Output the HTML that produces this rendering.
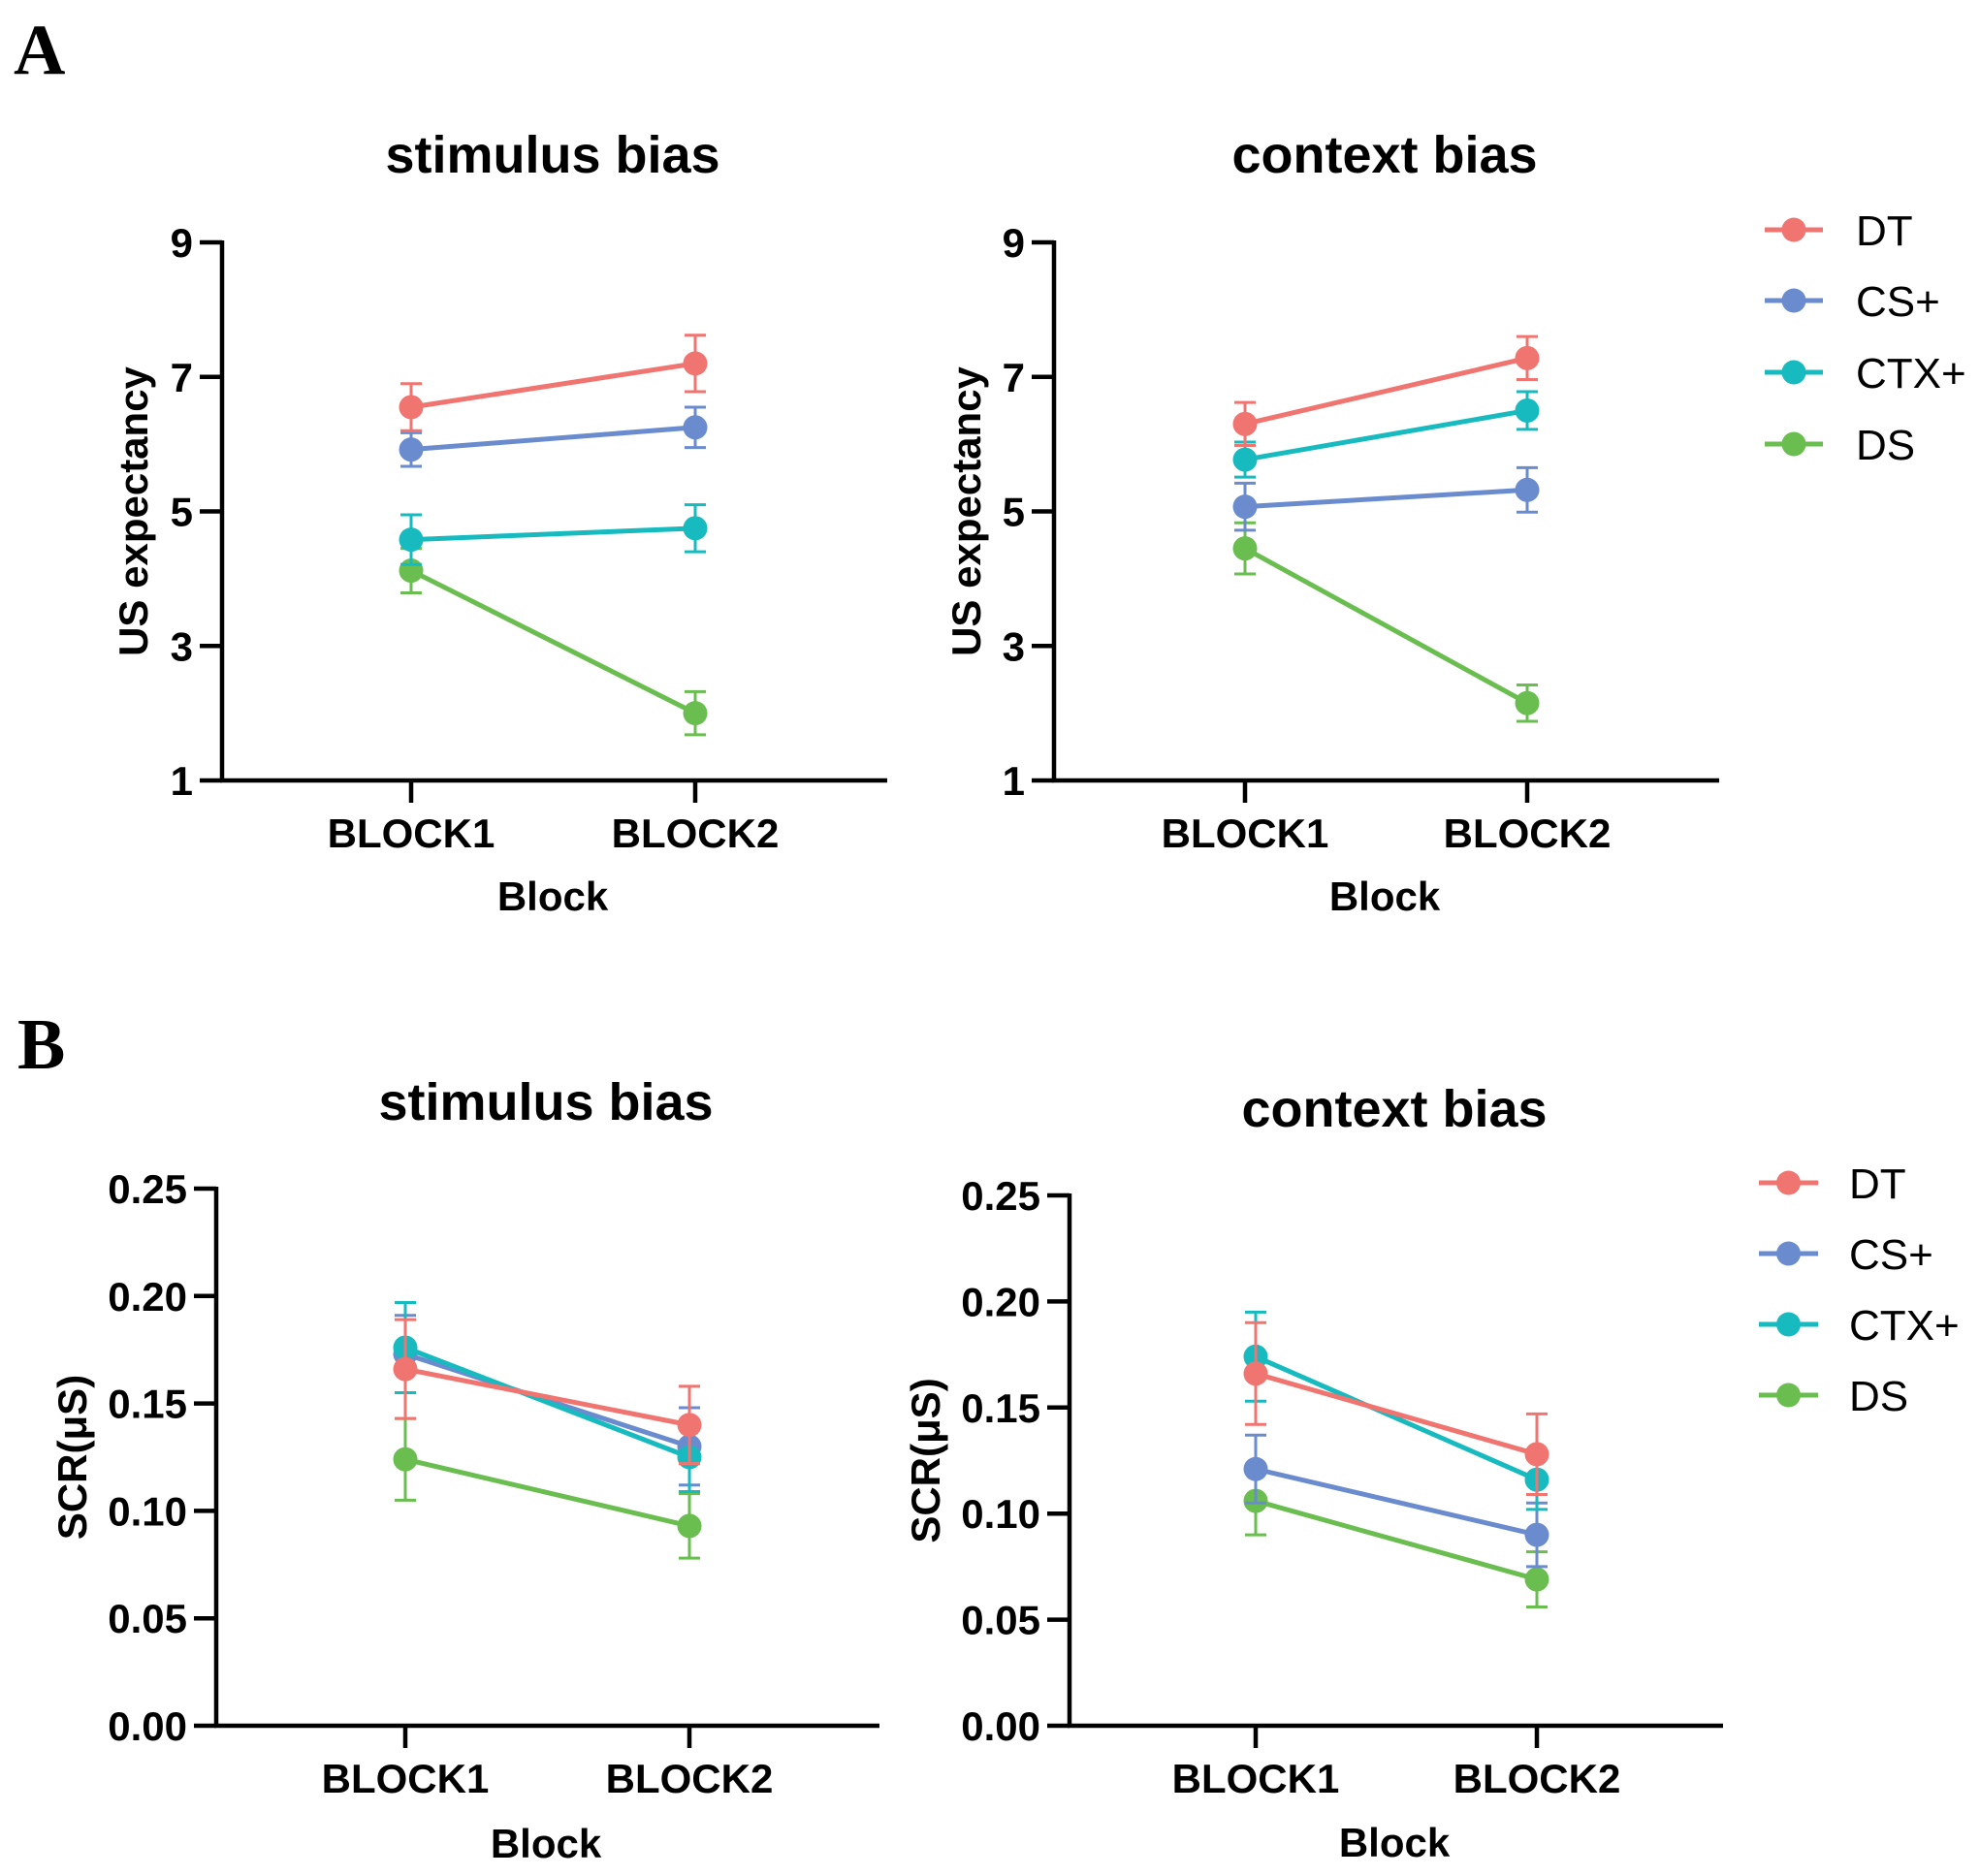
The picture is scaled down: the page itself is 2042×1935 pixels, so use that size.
<!DOCTYPE html>
<html><head><meta charset="utf-8"><style>
html,body{margin:0;padding:0;background:#fff;}
svg{display:block;}
.sans{font-family:"Liberation Sans",Arial,sans-serif;}
</style></head><body>
<svg id="s" width="2042" height="1935" viewBox="0 0 2042 1935" xmlns="http://www.w3.org/2000/svg">
<rect width="2042" height="1935" fill="#fff"/>
<text x="14" y="76" style="font-family:'Liberation Serif',serif;font-weight:bold;font-size:74px">A</text>
<text x="18" y="1102" style="font-family:'Liberation Serif',serif;font-weight:bold;font-size:74px">B</text>
</svg>
<script>
const C={DT:"#F07470",CS:"#6A8CCF",CTX:"#17BABF",DS:"#6ABD4F"};
const s=document.getElementById('s');
let h='';
const F='class="sans"';
function panel(p){
  const {ax,y0,y1,xend,b1,b2,vmin,vmax,ticks,fmt,title,ty,ylab,ylx,by,series}=p;
  const Y=v=>y0-(v-vmin)/(vmax-vmin)*(y0-y1);
  h+=`<text ${F} x="${(ax+xend)/2-2}" y="${ty+18}" font-size="54" font-weight="bold" text-anchor="middle">${title}</text>`;
  h+=`<line x1="${ax}" y1="${y1-2}" x2="${ax}" y2="${y0+2}" stroke="#000" stroke-width="4.5"/>`;
  h+=`<line x1="${ax-2}" y1="${y0}" x2="${xend}" y2="${y0}" stroke="#000" stroke-width="4.5"/>`;
  ticks.forEach(t=>{const y=Y(t);h+=`<line x1="${ax-23}" y1="${y}" x2="${ax}" y2="${y}" stroke="#000" stroke-width="4.5"/>`;
    h+=`<text ${F} x="${ax-30}" y="${y+15}" font-size="42" font-weight="bold" text-anchor="end">${fmt(t)}</text>`;});
  [b1,b2].forEach((x,i)=>{h+=`<line x1="${x}" y1="${y0}" x2="${x}" y2="${y0+23}" stroke="#000" stroke-width="4.5"/>`;
    h+=`<text ${F} x="${x}" y="${y0+69}" font-size="42" font-weight="bold" text-anchor="middle">BLOCK${i+1}</text>`;});
  h+=`<text ${F} x="${(ax+xend)/2-2}" y="${by+15}" font-size="42" font-weight="bold" text-anchor="middle">Block</text>`;
  h+=`<text ${F} transform="translate(${ylx+15},${(y0+y1)/2}) rotate(-90)" font-size="42" font-weight="bold" text-anchor="middle">${ylab}</text>`;
  series.forEach(([c,v1,e1,v2,e2])=>{
    const col=C[c];
    [[b1,v1,e1],[b2,v2,e2]].forEach(([x,v,e])=>{
      h+=`<line x1="${x}" y1="${Y(v-e)}" x2="${x}" y2="${Y(v+e)}" stroke="${col}" stroke-width="3"/>`;
      h+=`<line x1="${x-11}" y1="${Y(v-e)}" x2="${x+11}" y2="${Y(v-e)}" stroke="${col}" stroke-width="3"/>`;
      h+=`<line x1="${x-11}" y1="${Y(v+e)}" x2="${x+11}" y2="${Y(v+e)}" stroke="${col}" stroke-width="3"/>`;
    });
    h+=`<line x1="${b1}" y1="${Y(v1)}" x2="${b2}" y2="${Y(v2)}" stroke="${col}" stroke-width="5"/>`;
    h+=`<circle cx="${b1}" cy="${Y(v1)}" r="12.5" fill="${col}"/><circle cx="${b2}" cy="${Y(v2)}" r="12.5" fill="${col}"/>`;
  });
}
function legend(x1,x2,tx,ys){
  ["DT","CS","CTX","DS"].forEach((k,i)=>{const y=ys[i];
    h+=`<line x1="${x1}" y1="${y}" x2="${x2}" y2="${y}" stroke="${C[k]}" stroke-width="5"/>`;
    h+=`<circle cx="${(x1+x2)/2}" cy="${y}" r="12.5" fill="${C[k]}"/>`;
    h+=`<text ${F} x="${tx}" y="${y+16}" font-size="44">${["DT","CS+","CTX+","DS"][i]}</text>`;});
}
const f1=t=>t, f2=t=>t.toFixed(2);
panel({ax:229,y0:805,y1:250,xend:915,b1:424,b2:717,vmin:1,vmax:9,ticks:[1,3,5,7,9],fmt:f1,title:"stimulus bias",ty:160,ylab:"US expectancy",ylx:137,by:924,
 series:[["DS",4.12,.33,2.0,.32],["CTX",4.58,.37,4.75,.35],["CS",5.92,.25,6.25,.3],["DT",6.55,.35,7.2,.42]]});
panel({ax:1087,y0:805,y1:250,xend:1773,b1:1284,b2:1575,vmin:1,vmax:9,ticks:[1,3,5,7,9],fmt:f1,title:"context bias",ty:160,ylab:"US expectancy",ylx:996,by:924,
 series:[["DS",4.45,.38,2.15,.27],["CS",5.07,.35,5.32,.33],["CTX",5.77,.26,6.5,.28],["DT",6.3,.32,7.28,.32]]});
panel({ax:223,y0:1780,y1:1226,xend:907,b1:418,b2:711,vmin:0,vmax:.25,ticks:[0,.05,.1,.15,.2,.25],fmt:f2,title:"stimulus bias",ty:1137,ylab:"SCR(μS)",ylx:74,by:1901,
 series:[["DS",.124,.019,.093,.015],["CS",.173,.018,.130,.018],["CTX",.176,.021,.125,.016],["DT",.166,.023,.140,.018]]});
panel({ax:1103,y0:1780,y1:1233,xend:1777,b1:1295,b2:1585,vmin:0,vmax:.25,ticks:[0,.05,.1,.15,.2,.25],fmt:f2,title:"context bias",ty:1144,ylab:"SCR(μS)",ylx:954,by:1900,
 series:[["DS",.106,.016,.069,.013],["CS",.121,.016,.090,.015],["CTX",.174,.021,.116,.014],["DT",.166,.024,.128,.019]]});
legend(1820,1880,1914,[237,310,384,458]);
legend(1814,1875,1907,[1220,1293,1366,1439]);
s.insertAdjacentHTML('beforeend',h);
</script>
</body></html>
